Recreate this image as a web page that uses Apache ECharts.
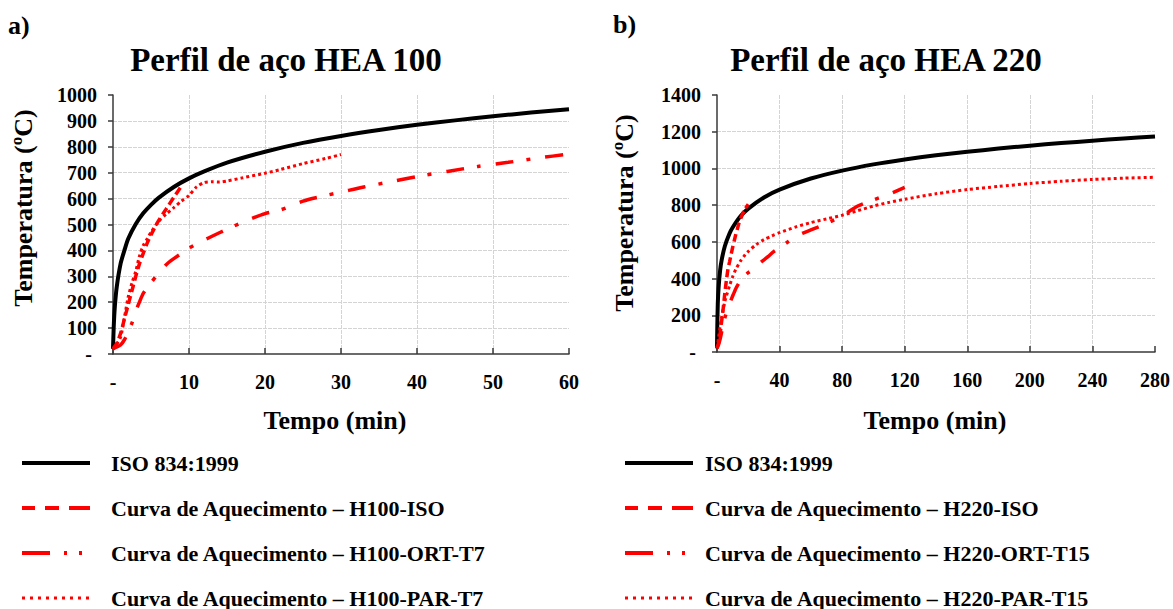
<!DOCTYPE html>
<html lang="pt">
<head>
<meta charset="utf-8">
<title>Curvas de aquecimento – perfis HEA 100 e HEA 220</title>
<script src="https://cdn.jsdelivr.net/npm/echarts@6/dist/echarts.min.js"></script>
<style>
  html, body { margin: 0; padding: 0; background: #ffffff; }
  #chart { width: 1173px; height: 609px; }
</style>
</head>
<body>
<div id="chart"></div>
<script>
// ---------- Perfil HEA 100 (tempo em min, temperatura em ºC) ----------
const tIso100 = [0, 0.1, 0.25, 0.5, 1, 1.5, 2, 3, 4, 5, 6, 8, 10, 12, 15, 20, 25, 30, 35, 40, 45, 50, 55, 60];
const TIso100 = [20, 108, 186, 261, 349, 400, 445, 502, 544, 576, 603, 645, 678, 705, 739, 781, 815, 842, 865, 885, 902, 918, 932, 945];

const tH100Iso = [0, 0.5, 1, 1.5, 2, 2.5, 3, 3.5, 4, 4.5, 5, 6, 7, 8, 9];
const TH100Iso = [20, 40, 80, 135, 190, 245, 300, 350, 390, 428, 460, 515, 560, 605, 648];

const tH100Ort = [0, 1, 1.5, 2, 2.5, 3, 3.5, 4, 5, 6, 7, 8, 10, 12, 14, 16, 18, 20, 22, 25, 28, 30, 33, 36, 40, 44, 48, 52, 56, 60];
const TH100Ort = [20, 35, 55, 85, 120, 165, 202, 235, 275, 312, 345, 368, 408, 440, 468, 495, 520, 542, 556, 590, 612, 625, 645, 662, 685, 705, 724, 740, 757, 772];

const tH100Par = [0, 0.5, 1, 1.5, 2, 2.5, 3, 3.5, 4, 4.5, 5, 6, 7, 8, 9, 10, 11, 12, 13, 14, 15, 17, 20, 22, 25, 28, 30];
const TH100Par = [20, 40, 65, 140, 220, 275, 320, 380, 420, 445, 470, 512, 540, 565, 590, 612, 645, 662, 665, 664, 668, 680, 698, 712, 735, 755, 770];

// ---------- Perfil HEA 220 ----------
const tIso220 = [0, 0.2, 0.5, 1, 2, 3, 5, 8, 10, 15, 20, 30, 40, 60, 80, 100, 120, 140, 160, 180, 200, 220, 240, 260, 280];
const TIso220 = [20, 144, 261, 349, 445, 502, 576, 645, 678, 739, 781, 842, 885, 945, 988, 1022, 1049, 1072, 1091, 1108, 1124, 1138, 1151, 1163, 1174];

const tH220Iso = [0, 1, 2, 3, 4, 5, 6, 7, 8, 9, 10, 11, 12, 13, 14, 16, 18, 20];
const TH220Iso = [20, 50, 100, 170, 240, 320, 390, 450, 490, 530, 570, 605, 640, 670, 700, 745, 780, 805];

const tH220Ort = [0, 1, 2, 3, 4, 5, 6, 7, 8, 10, 12, 14, 16, 20, 24, 28, 32, 36, 40, 45, 50, 55, 60, 70, 80, 90, 100, 110, 120];
const TH220Ort = [20, 40, 70, 110, 150, 185, 215, 240, 262, 305, 345, 375, 402, 432, 455, 488, 515, 545, 568, 598, 628, 648, 665, 700, 742, 795, 828, 860, 897];

const tH220Par = [0, 1, 2, 3, 4, 5, 6, 8, 10, 12, 15, 18, 20, 25, 30, 35, 40, 50, 60, 70, 80, 90, 100, 110, 120, 140, 160, 180, 200, 220, 240, 260, 280];
const TH220Par = [20, 80, 140, 190, 235, 275, 305, 360, 410, 450, 495, 530, 548, 585, 612, 632, 650, 680, 705, 725, 745, 770, 795, 815, 832, 862, 885, 902, 918, 930, 940, 947, 952];

// ---------- Eixos e legendas ----------
const xTicks100 = [0, 10, 20, 30, 40, 50, 60];
const yTicks100 = [0, 100, 200, 300, 400, 500, 600, 700, 800, 900, 1000];
const xTicks220 = [0, 40, 80, 120, 160, 200, 240, 280];
const yTicks220 = [0, 200, 400, 600, 800, 1000, 1200, 1400];

const names100 = ['ISO 834:1999', 'Curva de Aquecimento – H100-ISO', 'Curva de Aquecimento – H100-ORT-T7', 'Curva de Aquecimento – H100-PAR-T7'];
const names220 = ['ISO 834:1999', 'Curva de Aquecimento – H220-ISO', 'Curva de Aquecimento – H220-ORT-T15', 'Curva de Aquecimento – H220-PAR-T15'];

const FONT = '"Liberation Serif", "Times New Roman", serif';
const RED = '#ff0000';
const AXIS = '#3a3a3a';
const GRID = '#d4d4d4';

function zip(ts, vs) { return ts.map((t, i) => [t, vs[i]]); }

function axisFrom(ticks, isX, idx) {
  return {
    type: 'value',
    gridIndex: idx,
    min: ticks[0],
    max: ticks[ticks.length - 1],
    interval: ticks[1] - ticks[0],
    axisLine: { show: true, onZero: false, lineStyle: { color: AXIS, width: 1.5 } },
    axisTick: { show: true, inside: isX, length: isX ? 6 : 5, lineStyle: { color: AXIS, width: 1.5 } },
    splitLine: { show: true, showMinLine: false, showMaxLine: false, lineStyle: { color: GRID, width: 1, type: [4, 1] } },
    axisLabel: {
      margin: isX ? 18 : 16,
      color: '#000', fontFamily: FONT, fontWeight: 'bold', fontSize: 20,
      formatter: v => (v === 0 ? (isX ? '-' : '- ') : String(v))
    }
  };
}

// estilos das linhas no gráfico
const styles = [
  { color: '#000000', width: 4, type: 'solid' },
  { color: RED, width: 3.5, type: [8, 4] },
  { color: RED, width: 3.5, type: [18, 13, 4, 15] },
  { color: RED, width: 3, type: [3, 3] }
];
// estilos das amostras na legenda
const legendStyles = [
  { color: '#000000', width: 4, type: 'solid' },
  { color: RED, width: 4, type: [13, 10, 14, 10, 22, 10] },
  { color: RED, width: 4, type: [28, 14, 3, 12, 3, 40] },
  { color: RED, width: 3, type: [3, 5] }
];

const sets100 = [zip(tIso100, TIso100), zip(tH100Iso, TH100Iso), zip(tH100Ort, TH100Ort), zip(tH100Par, TH100Par)];
const sets220 = [zip(tIso220, TIso220), zip(tH220Iso, TH220Iso), zip(tH220Ort, TH220Ort), zip(tH220Par, TH220Par)];

function makeSeries(names, sets, idx) {
  return names.map((n, i) => ({
    name: n,
    type: 'line',
    xAxisIndex: idx,
    yAxisIndex: idx,
    data: sets[i],
    symbol: 'none',
    showSymbol: false,
    smooth: 0.25,
    lineStyle: styles[i],
    itemStyle: { color: styles[i].color },
    z: 2 + i
  }));
}

function makeLegend(names, left, textGap) {
  return {
    orient: 'vertical',
    left: left,
    top: 452,
    height: 157,
    padding: 0,
    itemWidth: 68,
    itemHeight: 14,
    itemGap: 23,
    selectedMode: false,
    itemStyle: { opacity: 0 },
    textStyle: { fontFamily: FONT, fontWeight: 'bold', fontSize: 22, color: '#000', lineHeight: 22, padding: [0, 0, 0, textGap] },
    data: names.map((n, i) => ({ name: n, itemStyle: { opacity: 0 }, lineStyle: legendStyles[i] }))
  };
}

function label(text, x, y, size, rot, align) {
  return {
    type: 'text', x: x, y: y, rotation: rot || 0,
    style: {
      text: text, fill: '#000', fontFamily: FONT, fontWeight: 'bold', fontSize: size,
      align: align || 'center', verticalAlign: 'middle'
    }
  };
}

const chart = echarts.init(document.getElementById('chart'), null, { renderer: 'svg' });
chart.setOption({
  animation: false,
  backgroundColor: '#ffffff',
  grid: [
    { left: 113, right: 604, top: 95, bottom: 255 },
    { left: 717, right: 16, top: 95, bottom: 257 }
  ],
  xAxis: [axisFrom(xTicks100, true, 0), axisFrom(xTicks220, true, 1)],
  yAxis: [axisFrom(yTicks100, false, 0), axisFrom(yTicks220, false, 1)],
  legend: [makeLegend(names100, 20, 16), makeLegend(names220, 623, 7)],
  series: makeSeries(names100, sets100, 0).concat(makeSeries(names220, sets220, 1)),
  graphic: [
    label('a)', 8, 25, 26, 0, 'left'),
    label('b)', 613, 24, 26, 0, 'left'),
    label('Perfil de aço HEA 100', 286, 60, 33),
    label('Perfil de aço HEA 220', 886, 60, 33),
    label('Temperatura (ºC)', 23, 208, 26, Math.PI / 2),
    label('Temperatura (ºC)', 624, 213, 26, Math.PI / 2),
    label('Tempo (min)', 335, 420, 26),
    label('Tempo (min)', 935, 420, 26)
  ]
});
</script>
</body>
</html>
